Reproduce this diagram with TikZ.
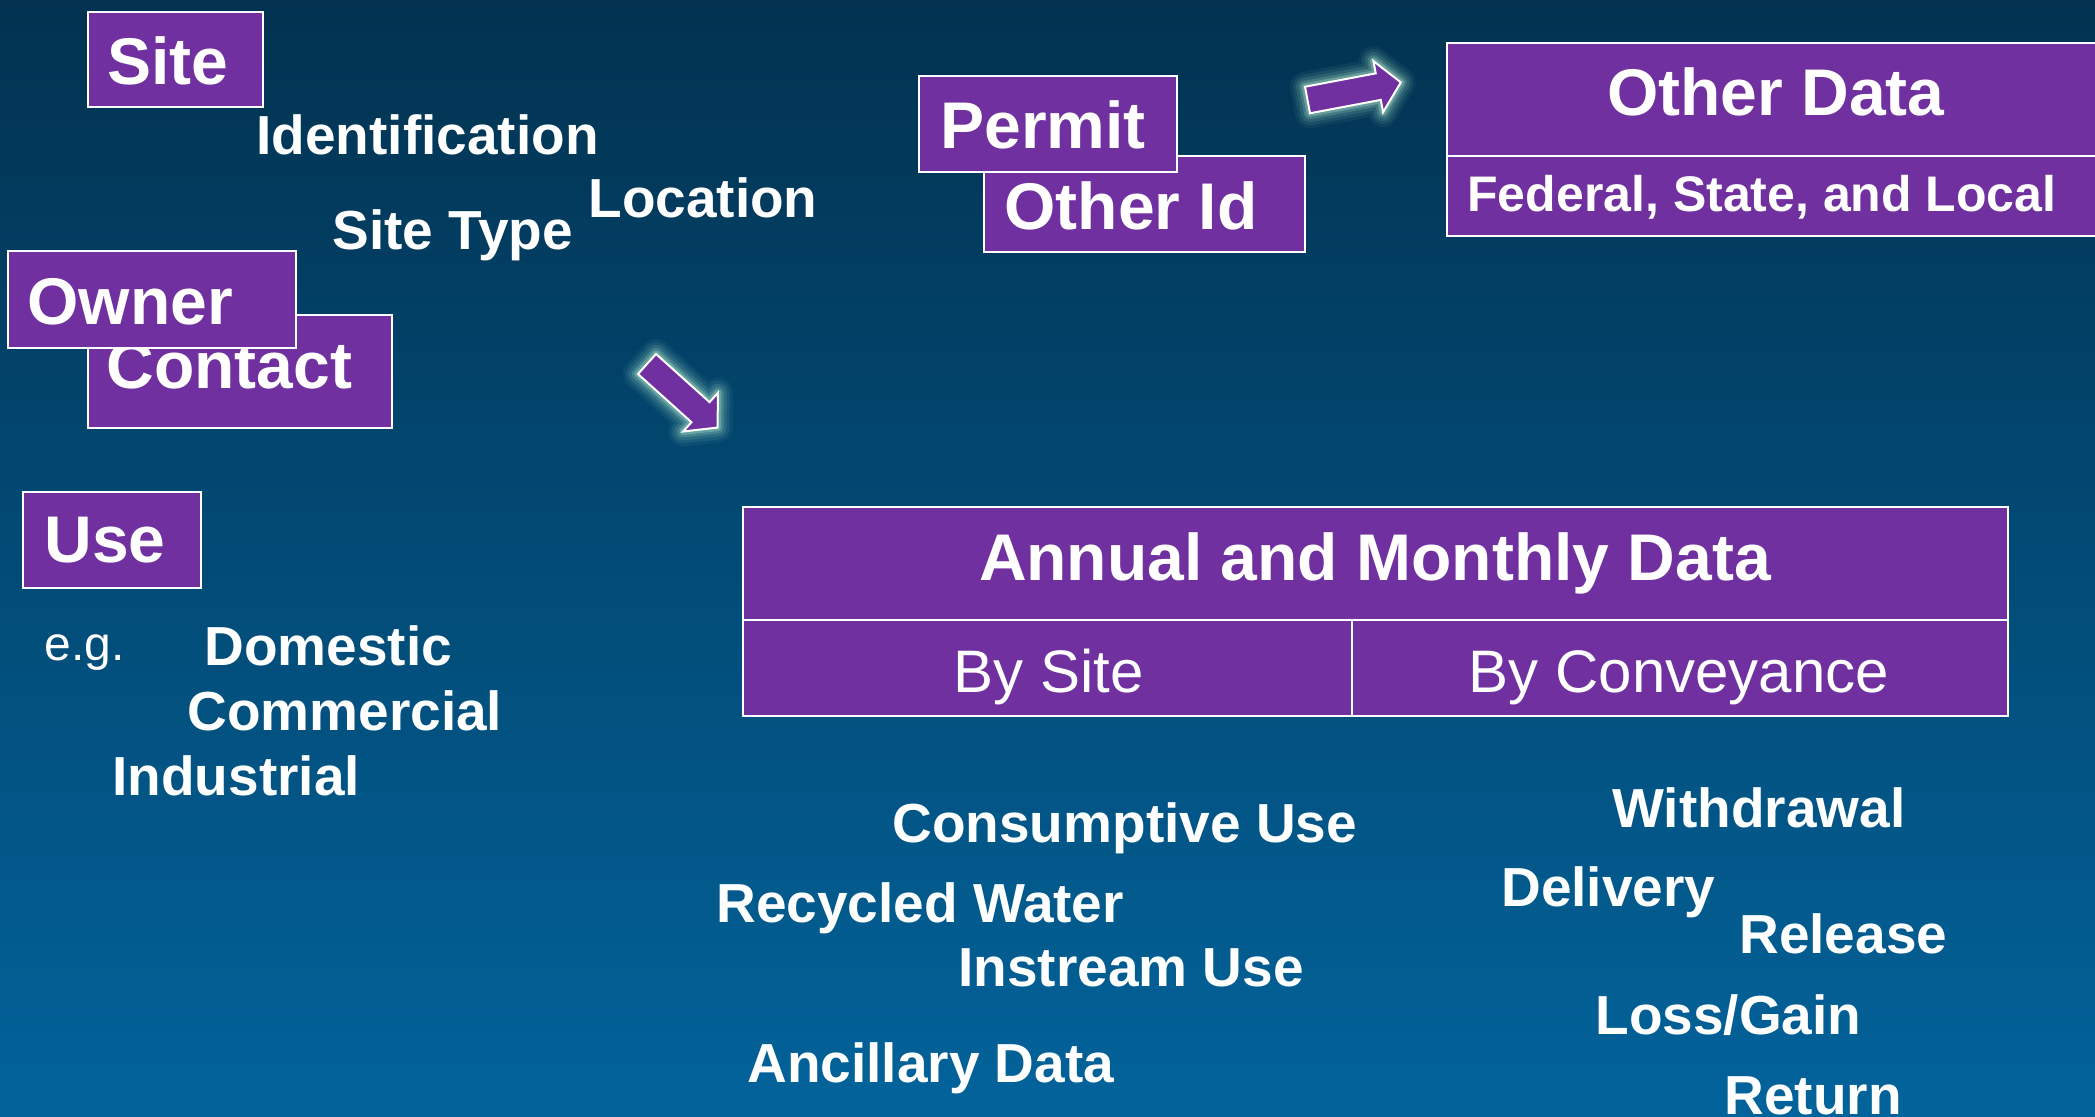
\documentclass[tikz,border=0pt]{standalone}
\usepackage{fontspec}
\setmainfont{Liberation Sans}
\usetikzlibrary{fit}
\definecolor{bgtop}{HTML}{023250}
\definecolor{bgbot}{HTML}{02639B}
\definecolor{purp}{HTML}{7030A0}
\definecolor{glowc}{HTML}{A8E0C8}
\begin{document}
\begin{tikzpicture}[x=0.5pt,y=-0.5pt,
  pbox/.style={rectangle, fill=purp, draw=white, line width=1.2pt, inner sep=0pt},
  lbl/.style={text=white, inner sep=0pt, anchor=base west},
  big/.style={lbl, font=\fontsize{33pt}{36pt}\selectfont\bfseries},
  med/.style={lbl, font=\fontsize{27.5pt}{30pt}\selectfont\bfseries},
  fed/.style={lbl, font=\fontsize{25pt}{28pt}\selectfont\bfseries},
  reg/.style={lbl, font=\fontsize{30pt}{33pt}\selectfont},
  small/.style={lbl, font=\fontsize{24pt}{26pt}\selectfont},
  blockarrow/.pic={
    \foreach \w/\o in {15/0.06,12/0.09,9/0.13,6/0.2,3.5/0.35}{
      \draw[draw=glowc, draw opacity=\o, line width=\w pt, line join=round]
        (0,-13.5) -- (72,-13.5) -- (72,-26) -- (95,0) -- (72,26) -- (72,13.5) -- (0,13.5) -- cycle;
    }
    \draw[fill=purp, draw=white, line width=1pt, line join=miter]
      (0,-13.5) -- (72,-13.5) -- (72,-26) -- (95,0) -- (72,26) -- (72,13.5) -- (0,13.5) -- cycle;
  }
]
\useasboundingbox (0,0) rectangle (2095,1117);
\begin{scope}
\clip (0,0) rectangle (2095,1117);
\shade[top color=bgtop, bottom color=bgbot] (0,0) rectangle (2095,1117);

% Site group
\node[pbox, fit={(88,12) (263,107)}] (site) {};
\node[big] (sitet) at (107,85) {Site};
\node[med] (ident) at (256,155) {Identification};
\node[med] (loc) at (588,218) {Location};
\node[med] (stype) at (332,250) {Site Type};

% Contact / Owner
\node[pbox, fit={(88,315) (392,428)}] (contact) {};
\node[big] (contactt) at (106,389) {Contact};
\node[pbox, fit={(8,251) (296,348)}] (owner) {};
\node[big] (ownert) at (27,325) {Owner};

% Use
\node[pbox, fit={(23,492) (201,588)}] (use) {};
\node[big] (uset) at (44,563) {Use};
\node[small] (eg) at (44,661) {e.g.};
\node[med] (dom) at (204,665) {Domestic};
\node[med] (com) at (187,730) {Commercial};
\node[med] (ind) at (112,795) {Industrial};

% Permit / Other Id
\node[pbox, fit={(984,156) (1305,252)}] (otherid) {};
\node[big] (otheridt) at (1004,230) {Other Id};
\node[pbox, fit={(919,76) (1177,172)}] (permit) {};
\node[big] (permitt) at (940,149) {Permit};

% Other Data
\node[pbox, fit={(1447,43) (2120,156)}] (odtop) {};
\node[pbox, fit={(1447,156) (2120,236)}] (odbot) {};
\node[big, anchor=base] (odt) at (1776,116) {Other Data};
\node[fed] (fedt) at (1467,212) {Federal, State, and Local};

% Annual and Monthly Data
\node[pbox, fit={(743,507) (2008,620)}] (amtop) {};
\node[pbox, fit={(743,620) (1352,716)}] (bysite) {};
\node[pbox, fit={(1352,620) (2008,716)}] (byconv) {};
\node[big, anchor=base] (amt) at (1375,581) {Annual and Monthly Data};
\node[reg, anchor=base] (bysitet) at (1049,692) {By Site};
\node[reg, anchor=base] (byconvt) at (1679,692) {By Conveyance};

% By site items
\node[med] (cons) at (892,842) {Consumptive Use};
\node[med] (recyc) at (716,922) {Recycled Water};
\node[med] (instr) at (958,986) {Instream Use};
\node[med] (ancil) at (747,1082) {Ancillary Data};

% By conveyance items
\node[med] (withd) at (1612,827) {Withdrawal};
\node[med] (deliv) at (1501,906) {Delivery};
\node[med] (relea) at (1739,953) {Release};
\node[med] (lossg) at (1595,1034) {Loss/Gain};
\node[med] (retur) at (1724,1114) {Return};

% Block arrows
\pic[rotate=-42] (arrowdown) at (647,364) {blockarrow};
\pic[rotate=10.7] (arrowright) at (1307.5,100) {blockarrow};
\end{scope}
\end{tikzpicture}
\end{document}
